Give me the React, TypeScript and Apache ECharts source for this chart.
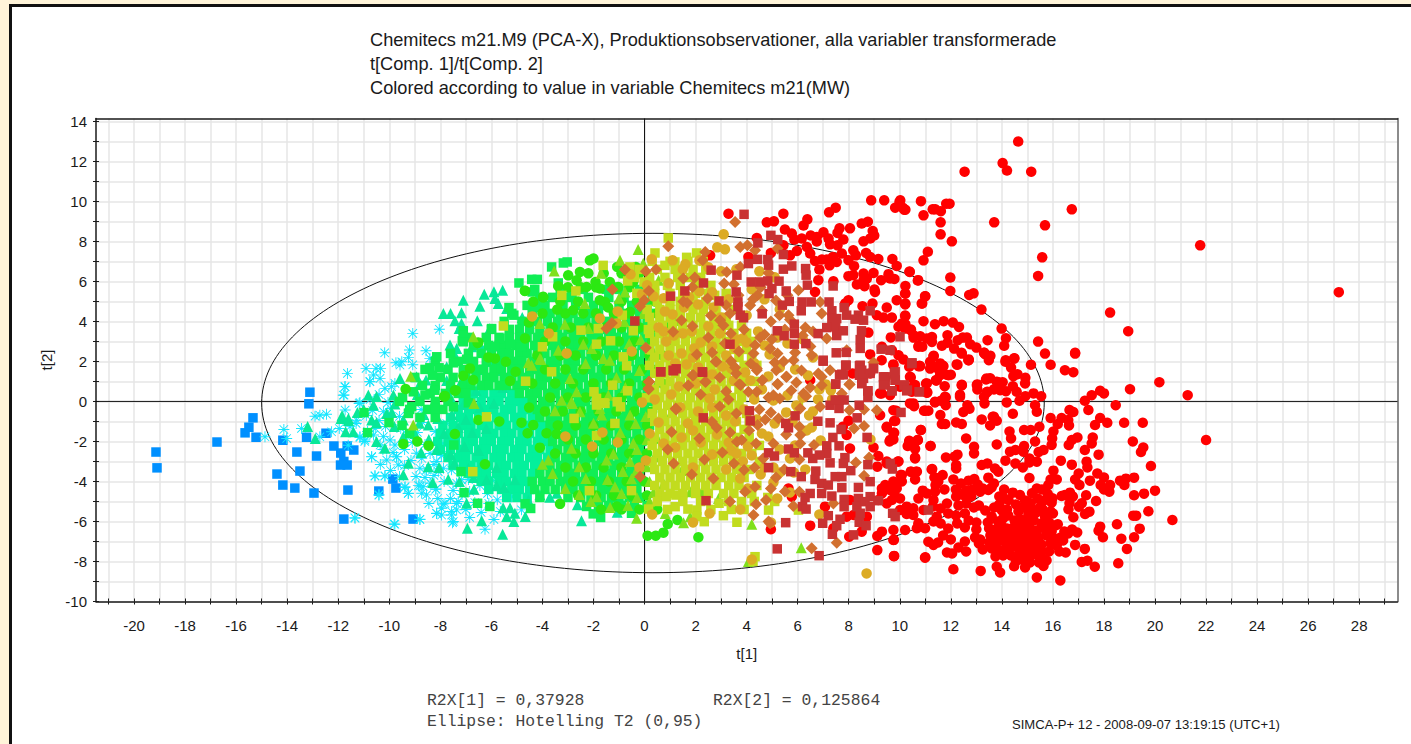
import React, { useEffect, useRef } from "react";
import * as echarts from "echarts";

const titleLines = [
  "Chemitecs m21.M9 (PCA-X), Produktionsobservationer, alla variabler transformerade",
  "t[Comp. 1]/t[Comp. 2]",
  "Colored according to value in variable Chemitecs m21(MW)",
];
const xTicks = [-21,-20,-19,-18,-17,-16,-15,-14,-13,-12,-11,-10,-9,-8,-7,-6,-5,-4,-3,-2,-1,0,1,2,3,4,5,6,7,8,9,10,11,12,13,14,15,16,17,18,19,20,21,22,23,24,25,26,27,28,29];
const yTicks = [-10,-9,-8,-7,-6,-5,-4,-3,-2,-1,0,1,2,3,4,5,6,7,8,9,10,11,12,13,14];
const xLabels = [-20,-18,-16,-14,-12,-10,-8,-6,-4,-2,0,2,4,6,8,10,12,14,16,18,20,22,24,26,28];
const yLabels = [-10,-8,-6,-4,-2,0,2,4,6,8,10,12,14];
const ellipse = [0.33, -0.08, 15.33, 8.48];

// flat t1,t2 lists
const blue = [-19.14,-2.53,-19.1,-3.32,-16.75,-2.03,-15.65,-1.57,-15.5,-1.29,-15.34,-.82,-15.22,-1.79,-14.17,-1.94,-13.62,-2.53,-14.4,-3.63,-14.17,-4.18,-13.7,-4.33,-13.5,-3.48,-13.24,-1.79,-13.15,-.12,-13.11,.46,-12.85,-2.73,-12.95,-4.58,-12.48,-1.59,-12.17,-2.23,-11.9,-2.58,-11.65,-2.23,-11.39,-2.43,-11.78,-3,-11.91,-3.18,-11.65,-3.18,-11.62,-4.43,-11.78,-5.88,-10.41,-4.48,-9.86,-3.88,-9.74,-4.33,-9.07,-5.88];

const redCircles = [27.2,5.46,22,-1.93,21.77,7.8,21.28,.31,20.68,-5.93,20.17,.96,20,-4.46,19.84,-3.23,19.74,-5.49,19.57,-4.61,19.54,-2.3,19.52,-1.07,19.45,-2.53,19.4,-6.36,19.26,-5.71,19.18,-3.81,19.18,-4.69,19.18,-6.79,19.15,-5.71,19.13,-2,19.02,.61,18.95,3.51,18.9,-7.37,18.86,-3.86,18.8,-4.18,18.79,-1.07,18.68,-6.86,18.63,-3.96,18.56,-8.09,18.51,-6.14,18.46,-.19,18.24,4.44,18.24,-4.18,18.21,-4.51,18.13,-1.07,18,.4,18,-3.8,18,-4.4,17.96,-6.79,17.87,-4.18,17.85,.53,17.85,-.83,17.85,-6.26,17.79,-2.66,17.79,-6.46,17.74,-3.6,17.69,-4.98,17.65,-1.18,17.64,-8.26,17.56,-1.8,17.52,.31,17.52,-2.1,17.45,-3.96,17.43,-5.51,17.39,-.43,17.35,-3.3,17.35,-7.96,17.32,-3.01,17.3,-4.69,17.26,-5.63,17.25,.03,17.25,-2.43,17.25,-7.37,17.13,-5.09,17.13,-8.02,17.04,-4.18,17.02,-5.26,17.01,-3.6,16.96,-1.8,16.87,2.43,16.87,2.39,16.87,-3.9,16.87,-7.17,16.8,1.46,16.8,-.53,16.8,-5.79,16.78,-4.76,16.74,9.6,16.74,-1.93,16.74,-3.16,16.67,-4.56,16.65,-.43,16.65,-5.09,16.63,-1.2,16.62,-2.18,16.61,-5.39,16.6,-.93,16.47,1.56,16.47,-4.68,16.34,-.83,16.34,-4.73,16.31,-2.96,16.29,-8.95,16.19,-1.13,16.19,-6.14,16.15,-3.9,16.02,-1.5,16.02,-3.46,15.98,-4.84,15.97,-1.85,15.95,-2.17,15.95,-5.06,15.91,1.83,15.91,-.83,15.91,-3.9,15.91,-5.51,15.82,-4.18,15.8,-4.63,15.69,8.8,15.69,2.39,15.69,-5.76,15.63,-2.43,15.63,-8.22,15.58,7.2,15.57,-4.4,15.54,.26,15.52,-5.26,15.47,-1.27,15.44,-2.53,15.42,6.27,15.42,2.99,15.37,-.52,15.37,-3.01,15.37,-4.35,15.37,-8.8,15.3,-.19,15.3,-2,15.26,-5.43,15.24,.4,15.18,-4.59,15.15,11.48,15.14,1.83,15.13,-1.43,15.13,-5.09,15.08,-2.85,15.08,-3.05,15.08,-3.83,15.04,-5.63,14.97,-5.01,14.92,1.18,14.92,.26,14.91,.9,14.91,-8.3,14.87,-1.43,14.87,-2.23,14.84,-2.51,14.82,-3.3,14.71,-4.68,14.69,.03,14.64,12.99,14.61,1.36,14.58,.48,14.53,-2.43,14.53,-3.1,14.49,2.16,14.48,2.14,14.48,-8.24,14.45,1.26,14.43,.76,14.43,-.62,14.43,-4.56,14.36,1.69,14.36,-1.85,14.32,-2.51,14.3,-1.5,14.26,-4.93,14.2,11.54,14.19,-.05,14.16,3.16,14.16,.51,14.15,2.06,14.14,1.98,14.14,-2.96,14.09,2.78,14.09,-4.4,14.03,11.91,14.03,.96,13.99,3.64,13.93,.56,13.93,-8.55,13.86,.96,13.86,-3.51,13.8,-.97,13.8,-2.15,13.8,-8.26,13.73,-3.35,13.7,8.95,13.69,.6,13.69,-.77,13.69,-4.1,13.64,-.77,13.6,-4.3,13.55,2.28,13.54,1.16,13.54,-1.2,13.49,2.06,13.47,-3.81,13.47,-4.43,13.44,3.06,13.43,.48,13.43,-3.1,13.38,1.1,13.34,2.36,13.32,-.1,13.31,2.43,13.3,.23,13.21,-.9,13.21,-3.18,13.2,4.59,13.17,-8.47,13.15,-4.51,13.04,.85,13.04,.6,13,2.69,12.92,-3.88,12.91,-2.27,12.91,-2.6,12.89,5.4,12.86,-4.4,12.76,2.86,12.73,-.37,12.72,5.32,12.7,2.1,12.7,2.06,12.7,-3.96,12.65,-.19,12.63,3.19,12.6,-1.85,12.54,11.48,12.49,-.53,12.49,-4.68,12.47,3.19,12.43,2.39,12.43,.83,12.43,-1.13,12.42,2.43,12.36,.33,12.32,3.72,12.27,3.06,12.26,1.83,12.26,-2.66,12.21,-1.05,12.21,-3.18,12.21,-3.35,12.21,-4.76,12.15,-2.76,12.13,2.64,12.1,-8.39,12.08,3.94,12.04,8,12,1.33,11.98,6.19,11.98,5.52,11.95,9.88,11.87,3.31,11.87,2.93,11.84,1.33,11.82,9.88,11.81,-2.8,11.8,.2,11.8,-.19,11.78,-1.13,11.76,.76,11.75,-4.4,11.72,4.01,11.68,1.79,11.68,-3.68,11.65,2.78,11.65,-1.13,11.61,9.51,11.61,.03,11.6,8.95,11.6,8.35,11.59,-.68,11.54,1.56,11.42,1.05,11.4,-4.18,11.39,9.6,11.38,3.86,11.38,-.05,11.36,-3.8,11.33,2.28,11.32,2.26,11.32,1.73,11.29,9.6,11.26,3.22,11.26,2.97,11.25,-3.4,11.2,-2.23,11.19,1.98,11.12,-.47,11.1,7.48,11.08,.45,11.06,3.14,11.06,.9,11,5.25,10.99,-7.81,10.95,-.47,10.93,9.3,10.93,7.05,10.93,4.01,10.88,4.89,10.88,2.73,10.83,10.01,10.82,-1.43,10.8,3.26,10.77,1.78,10.74,2.78,10.71,6.04,10.71,-1.93,10.64,-3.51,10.6,-2.37,10.6,-2.8,10.6,-3.9,10.56,.81,10.56,-.24,10.54,3.19,10.44,3.59,10.44,-3.51,10.43,1.2,10.4,-.1,10.39,6.47,10.37,1.73,10.37,-1.97,10.31,-2.23,10.22,9.58,10.22,5.77,10.22,5.39,10.22,4.89,10.22,4.26,10.22,3.86,10.12,9.68,10.04,-3.68,10.02,10.05,9.93,-3,9.86,-.47,9.82,-.98,9.77,-7.74,9.77,-6.92,9.75,1.81,9.75,-1.57,9.75,-1.9,9.6,-2,9.49,-1.3,9.49,-3,
9.99,9.97,9.82,9.68,9.39,10.05,8.88,10.05,10.17,9.58,8.75,8.98,8.51,8.89,8.94,8.52,9,8.29,8.84,8.14,8.58,8,8.05,8.65,7.64,8.65,7.56,8.42,7.49,9.68,7.23,9.45,7.21,8.14,7.27,7.85,7.01,8.45,6.75,8.22,6.75,7.99,6.51,8.29,6.38,9.1,6.36,7.72,6.23,8.79,6.16,8.14,5.97,7.52,5.87,8.09,5.77,8.39,5.7,7.3,5.5,8.59,5.44,9.38,5.44,7.8,5.07,9,4.95,7.42,4.79,8.95,4.4,8.17,4.07,7.22,3.29,9.38,2.57,7.3,7.79,8.09,7.56,7.8,7.73,7.39,8.18,7.55,8.28,7.3,7.99,7.06,8.21,6.76,8.68,7.42,8.84,7.22,9.16,7.12,9.71,7.12,9.88,6.77,10.38,6.49,10.72,6.06,7.53,6.97,7.38,7.22,7.25,6.8,7.14,7.09,6.95,7.09,6.85,6.59,6.68,7.02,6.49,7.39,8.58,6.39,8.97,6.42,9.56,6.36,9.62,6.14,9.79,6.12,9.27,6.06,8.71,6.14,8.58,6.06,8.32,5.84,8.62,5.76,9.01,5.59,9.03,5.47,7.99,6.26,8.18,6.31,6.81,6.06,6.68,5.47,7.4,6,10.21,5.39,10.99,5.26,10.86,4.89,9.88,5.06,10.21,4.85,8.93,4.89,7.99,5.06,8.54,4.76,7.86,4.89,9.49,4.69,10.21,4.29,9.1,4.31,9.36,4.19,9.69,4.19,10.08,3.89,9.95,3.73,10.43,3.56,10.21,3.64,10.54,3.31,9.65,3.2,8.77,3.44,10.73,2.73,11.58,1.9,9.3,2.73,9.69,2.56,9.95,2.31,8.84,2.35,9.29,2.06,9.75,1.85,10.14,2.1,10.8,1.76,11.71,1.76,12.23,1.85,12.69,2.06,13.3,2.43,8.15,1.4,8.84,1.4,10.4,1.23,10.6,.82,11.45,1.06,11.91,1.31,12.43,.8,13.02,.82,13.41,1.15,13.8,.98,13.41,.45,9.29,.4,10.01,.73,10.47,.48,11.06,.43,11.77,.23,12.36,.23,6.49,1.06,
9.23,-.69,9.49,-1.27,9.78,-.98,9.78,-1.57,9.62,-1.93,8.97,-2.3,8.05,-2.35,7.99,-.97,7.92,-1.68,7.77,-1.27,10.38,-2.02,10.7,-1.93,11.21,-2.23,10.83,-1.43,10.6,-2.85,9.16,-2.73,9.49,-3.1,9.12,-3.26,9.95,-3,10.43,-3.51,10.67,-3.51,11.27,-3.38,11.38,-3.8,11.51,-4,10.08,-3.68,9.75,-4,9.43,-4.18,9.3,-4.35,10.08,-4,9.62,-4.43,9.88,-4.35,9.82,-4.76,9.69,-4.93,10.01,-4.85,9.49,-5.1,9.3,-4.6,9.16,-4.93,10.9,-4.46,11.06,-4.6,11.38,-4.51,10.73,-4.85,11.32,-4.93,10.27,-5.26,10.53,-5.34,10.93,-5.43,10.01,-5.43,10.27,-5.63,10.53,-5.68,11.45,-5.76,11.32,-6,10.73,-6.09,10.99,-6.34,10.67,-6.34,10.21,-6.43,9.75,-6.43,9.3,-6.51,9.12,-6.73,8.51,-6.51,8.02,-6.76,7.4,-6.34,6.49,-6.21,4.95,-6.39,7.07,-5.26,7.92,-5.76,8.19,-5.68,8.71,-5.76,9.75,-6.93,11.12,-7.01,11.32,-7.17,9.12,-7.43,9.78,-7.72,11,-7.79,5.77,-4.76,5.64,-4.35,8.05,-4.93,9.75,-.44,10.53,-.1,11,-.47,11.38,-.02,9.23,.4,9.62,.31,10.73,1.76,11.03,.89,11.42,1.06,11.19,1.64,11.58,1.31,
12.1,-3.9,12.4,-4.1,12.8,-4.75,12.3,-5.2,12.6,-5.1,12.9,-5.3,13.1,-5.2,13.35,-5.45,13.7,-5.3,14,-5.45,12.2,-5.7,12.55,-5.6,11.85,-5.1,11.6,-5.35,11.3,-5.25,11.9,-5.6,11.6,-6.1,11.9,-6.35,12.25,-6.1,12.55,-6.3,12.7,-5.95,13,-6.05,13,-6.4,11.7,-6.7,12,-6.9,11.5,-7.05,12.3,-7.3,12.55,-7,12.6,-7.5,11.85,-7.55,12.05,-7.6,13.15,-6.9,13.25,-7.4,13.1,-7.1,
13.45,-6.05,13.6,-5.75,13.85,-6,14.05,-5.85,14.25,-5.7,14.5,-5.95,14.75,-5.9,15,-6.05,15.25,-5.95,15.55,-6.1,15.85,-6.05,16.1,-6.2,16.45,-6.5,16.75,-6.4,16.95,-6.55,13.5,-6.35,13.75,-6.4,14,-6.25,14.2,-6.35,14.45,-6.3,14.65,-6.25,14.9,-6.4,15.1,-6.35,15.35,-6.45,15.65,-6.35,15.95,-6.5,16.3,-6.8,16.6,-6.6,13.55,-6.7,13.8,-6.75,14.05,-6.6,14.3,-6.7,14.5,-6.65,14.7,-6.6,14.95,-6.7,15.2,-6.75,15.45,-6.8,15.75,-6.7,16.05,-6.85,16.4,-6.95,13.5,-7.05,13.75,-7.1,14,-6.95,14.2,-7.05,14.4,-7,14.6,-6.9,14.85,-7,15.05,-7.1,15.3,-7.1,15.55,-7.15,15.9,-7.1,16.15,-7.2,13.6,-7.35,13.85,-7.4,14.15,-7.35,14.35,-7.3,14.55,-7.25,14.8,-7.35,15,-7.4,15.25,-7.4,15.55,-7.45,15.85,-7.5,16.25,-7.5,16.5,-7.55,13.75,-7.75,14.05,-7.7,14.35,-7.7,14.65,-7.65,14.9,-7.7,15.1,-7.75,15.35,-7.65,15.6,-7.85,14.55,-8,14.85,-7.95,15.1,-8.05,15.45,-8.05,15.75,-7.95,
14.65,-5.5,14.85,-5.3,15.05,-5.35,15.35,-5.55,15.6,-5.4,16,-5.6,13.9,-5.15,14.2,-5.4,14.55,-5.15,14.9,-4.95,15.4,-4.85,15.65,-4.95,
12.95,-6.8,12.2,-4.4,12.6,-4.45,13.05,-4.15,13.25,-4.35,13.9,-4.75,14.1,-4.85];

const redSquares = [.64,1.48,1.14,1.53,1.24,1.63,2.26,1.48,4.11,-.47,2.3,-.82,4.14,-.97,5.9,-.72,5.53,-1.1,5.64,-1.32,6.79,-.99,7.27,-1.07,7.7,-1.4,8.33,-.82,7.38,-1.8,8.72,-1.8,7.62,-2.22,7.14,-2.22,7.14,-2.6,6.85,-2.68,6.59,-2.85,6.4,-2.57,5.87,-2.57,5.64,-2.38,4.86,-2.57,5.09,-2.73,4.86,-3.31,5.73,-3.51,6.14,-3.76,6.71,-3.48,7.27,-3.07,7.85,-2.81,7.79,-3.1,8.08,-3.46,8.75,-3.16,9.63,-3.1,9.71,-3.38,7.73,-3.76,7.47,-3.76,6.68,-3.9,6.94,-4.1,7.2,-4.18,7.73,-4.31,8.38,-4.3,8.84,-4.01,6.49,-4.6,6.29,-4.8,6.94,-4.6,7.34,-4.73,7.82,-4.9,7.82,-5.26,8.38,-4.85,8.84,-4.76,9.16,-4.96,8.32,-5.26,8.64,-5.01,8.84,-5.26,8.45,-5.59,6.19,-5.26,6.33,-5.38,2.41,-4.96,9.72,-5.59,9.82,-5.76,10.05,-.55,11.12,-5.43,7.2,-5.71,7.66,-5.89,7.53,-6.21,6.98,-6.09,8.41,-6.04,8.68,-6.21,5.53,-6.06,8.19,-6.67,7.36,-6.64,5.2,-7.37,6.84,-7.71,7.88,1.81,8.45,1.81,8.45,1.31,8.51,.89,8.97,1.64,9.43,1.23,9.43,.89,9.82,1.48,9.82,1.06,9.69,.53,10.18,.81,10.27,.53,10.77,.48,10.47,1.89,8.75,.53,8.75,.2,8.41,-.19,7.62,.06,7.27,-.19,7.62,-.35,7.49,.86,7.73,1.36,7,2.01,
3.9,9.35,4.95,8.3,5.22,8.09,4.44,7.92,5.44,7.34,4.43,7.1,4.07,6.89,4.83,7.09,4.86,6.81,2.61,6.56,3.62,6.31,5.44,6.61,5.77,6.77,6.31,6.64,6.33,6.31,6.38,5.81,4.18,5.97,4.53,5.97,4.83,6.02,5.27,6.01,2.31,5.92,7.39,5.77,5.55,5.52,3.59,5.47,4.88,5.39,4.99,5.64,2.92,5.02,3.66,4.97,3.66,4.73,5.4,4.81,5.67,5,6.17,4.97,6.53,4.97,7.23,4.97,6.14,4.53,7.34,4.53,7.82,4.69,8.84,4.53,3.75,4.31,3.88,4.18,4.61,4.38,7.34,4.14,7.53,4.14,7.92,4.31,8.38,4.31,8.25,4.11,8.58,4.06,5.87,3.86,7.49,3.73,7.14,3.69,7.79,3.53,8.5,3.53,5.2,3.53,5.87,3.39,5.47,3.28,6.8,3.39,7.53,3.29,8.45,3.09,10.01,3.23,5.87,2.86,6.32,2.89,3.35,2.86,8.45,2.65,9.27,2.61,9.62,2.56,7.51,2.43,7.9,2.45,7,2.06,10.48,1.93,7.9,1.81,8.42,1.78,8.51,1.56,8.97,1.65,8.84,1.4,7.64,1.33,7.79,1.33,2.28,1.46,8.42,1.31,8.58,1.15,8.51,.9,9.36,1.23,9.36,.82,9.79,1.4,9.82,1.06,7.49,.87,10.17,.82,10.3,.57,8.75,.53,9.7,.53,10.76,.48,7.82,.07,7.47,.07,-.38,4.02,1.02,5.26,1.58,5.52,.63,1.48,1.12,1.56];

const diamonds = [.93,7.75,-.77,6.59,.05,6.5,.45,6.59,1.52,6.14,1.97,6.19,1.88,5.72,-1.26,5.59,.17,5.52,-.01,5.06,-.18,4.76,1.52,5,1.67,4.92,1.45,4.06,1.88,3.76,1.12,3.48,-1.28,3.92,-1.49,3.64,.05,2.68,1.88,1.31,1.71,.78,.17,.98,.15,.65,1.22,-.35,3.55,8.97,3.75,7.72,4.03,7.8,4.33,7.55,5.21,7.64,2.38,7.47,2.28,7.05,3.75,6.72,3.22,6.47,4.86,6.42,3.12,5.89,4.43,5.31,3.68,5.31,2.47,5.14,4.14,4.81,3.2,4.81,5.29,4.31,5.64,4.31,6.03,5.56,6.88,4.97,6.94,4.39,2.96,4.06,3.09,3.81,4.53,3.19,4.99,3.09,4.33,2.81,3.38,3.39,7.14,3.14,7.92,2.56,6.55,2.31,5.84,2.06,5.21,2.39,4.92,2.65,4.27,2.39,2.79,2,3.39,2.01,4.16,1.9,5.16,1.56,4.4,1.56,3.59,1.4,5.55,1.23,4.61,1.06,2.38,.98,3.77,.82,5.21,.87,4.07,.48,7.27,1.56,6.81,1.4,8.03,.85,8.97,1.95,6.23,.4,.18,.98,.16,.61,1.92,1.31,1.72,.79,2.4,.98,2.81,1.98,3.72,.86,4.4,1.64,4.62,1.06,5.22,.86,5.57,1.23,4.4,.48,4.86,.2,5.05,.31,3.29,.1,1.24,-.4,2.64,-1.02,2.83,-1.32,4.5,-.4,5.25,-.85,4.73,-.9,4.43,-1.18,6.07,-1.27,6.33,.26,6.49,.69,6.88,-.27,8.03,-.44,8.6,-.4,9.1,-.44,8.21,-1.35,8.6,-1.23,7.73,.4,8.03,.86,9.45,1.14,6.94,1.23,6.94,.81,1.06,-1.53,.91,-2.4,3.62,-2.02,3.81,-1.93,4.37,-2.1,5.05,-2.1,6.1,-1.68,6.1,-2.1,6.64,-2.18,3.9,-3.43,4.31,-3.3,5.48,-3.4,6.07,-2.9,1.14,-3.1,-.17,-3.76,4.33,-4.26,3.94,-4.51,4.76,-4.93,4.37,-5.14,4.27,-5.68,4.86,-6,4.92,-6.09,5.83,-5.23,6.07,-4.51,7.4,-5.1,8.6,-3.71,8.28,-3.05,8.8,-2.8,7.53,-7.06,6.55,-7.34,
5.7,4.1,6.3,3.7,6.6,3.5,6.2,3.3,5.6,5.3,5.15,5.05,4.55,5.7,4.25,5.1,3.5,5.85,2.6,4.3,3.35,4.4,4.6,4.55,4.95,4,5.5,3.6,6.5,2.75,5.9,2.45,5.45,2,6.15,1.55,5.1,1.95,3.7,2.5,4.7,3.35,3.9,3.6,3.15,2.9,2.5,3.2,2.65,2.45,3.55,1.7,2.05,2.35,2.95,1.2,3.2,.5,2.2,.35,5.75,.55,5.95,.95,5.3,.15,6.1,-.35,4.95,-.55,3.6,-.6,2.95,-.25,4.1,-1.45,3.35,-1.55,5.55,-1.65,2.15,-1.85,3.05,-2.55,4.65,-2.85,3.5,-3.1,5.15,-3.8,2.35,-2.9,1.85,-3.65,2.7,-3.85,5.5,-4.5,4.95,-4.35,3.35,-5];

const goldCircles = [3.1,8.35,2.85,7.7,3.15,7.6,1.1,7.05,.28,7.1,1.6,6.85,2.15,7.05,-.55,6.35,.1,5.8,.95,5.9,1.5,6.6,2.5,6.7,3,6.5,.35,5.25,.75,5.15,1.75,5.2,-.1,5.35,2.15,5.5,2.65,5.45,.8,4.5,1.1,4.35,1.55,4.7,2.1,4.85,-1.75,4.15,-1.05,4.5,.55,3.7,.75,3.5,1.15,3.3,1.5,3.4,1.85,3.5,.85,3,2.5,3.75,2.95,3.4,2.2,2.95,2.65,2.75,1.95,2.65,.95,2.3,1.45,2.4,1.9,2.2,1.2,1.9,1.65,1.85,2.1,1.7,-3.05,2.4,3.2,2.3,3.55,2.65,4,2.95,4.45,3.5,3.85,3.15,4.9,2.35,4.3,1.9,3.95,1.45,3.5,1.05,4.15,1.05,4.85,1.25,2.65,1.35,3.05,1.75,2.75,.6,2,.9,2.55,.15,1.35,.75,1.05,.35,.4,.1,-.1,-.05,1.4,-.3,2.1,-.5,2.65,-.3,3.2,-.7,3.55,-1,1.7,-1.1,1.9,-1.45,2.85,-1.65,3.3,-2.05,.55,-1.05,.2,-1.6,1.45,-1.8,2.2,-2.05,.75,-2.1,1.2,-2.3,2.65,-2.65,3.85,-3,3.4,-2.45,4.05,-2.25,4.85,-1.75,5.55,-.55,5.95,-.2,5.05,.05,6.45,-.7,6.35,-1.45,6.55,-1.3,7.35,.1,7.3,.55,6.85,.6,8.85,-1.9,6.9,-1.95,5.7,-2.85,5.05,-3.3,4.55,-3.65,5.3,-3.55,5.85,-3.55,5.05,-4.05,5.7,-4.55,5.2,-4.85,4.05,-4.35,3.75,-3.85,3.2,-3.4,1.9,-3.3,.05,-2.95,-.2,-3.3,.3,-5.65,1.9,-6.05,2.55,-5.6,3.75,-5.4,4.95,-6.05,6.85,-5.65,4.2,-7.9,8.7,-8.6,3.4,1.65,-1.1,3.9,-.5,2.5,-1.65,-1.55,-3.1,-1.75,-2.05,-2.25,-1.05,-2.05,-4.4,4.25,-3.75,3.4,
4.7,2.8,5.2,3.2,5.6,2.9,6.2,3.1,6.6,2.2,5.3,1.7,5.9,1.6,6.4,1.3,4.6,.6,5.6,.3,4.3,.1,3.9,-.4,4.4,-.9,5.1,-1.1,5.8,-1,6.2,.2,4.6,-1.6,5.3,-2.4,4.2,-2.7,3.6,-2.6,4.7,-3.3,6.3,-3.4,5.9,-2.2,3.3,5.1,4,4.3,4.7,5.1,5.3,4.6,3.6,3.1,3,4.2,2.7,4.7,4.2,5.6,3.6,6.6,5.1,6.2,4.5,6.5,6.8,.1,7.1,.85,6.6,-.5];

const yellowExtra = [.93,8.17,.41,7.42,2.04,7.42,-1.62,6.8,-.57,6.72,1.19,6.97,.8,6.8,-.66,6.02,-.02,5.97,-2.69,5.52,-3.24,5.3,-.87,4.31,-1.81,3.64,-2.49,3.56,-5.53,3.77,-3.6,3.23,-4,2.73,-1.88,2.86,-1.33,3.03,-.44,3.53,.15,3.59,-.83,2.23,-.7,1.78,-3.64,1.48,-4.66,1.01,-1.25,.81,-.66,.53,-1.98,.48,-1.88,.15,-1.59,-.07,-1.07,-.02,-.94,-.27,.08,.18,.43,.18,-6.19,-.77,-2.76,-.85,1.91,-.6,-1.88,-.18,-1.55,-.1,-1.16,-1.1,-1.88,-1.71,-6.73,-3.51,-2.16,-4.46,-.51,-4.46,.16,-5.38,1.2,-5.26,.85,-4.76,1.23,-4.68,1.7,-5.38,2.05,-5.43,2.05,-5.76,2.34,-6.01,2.92,-5.09,3.09,-5.71,3.62,-6.04,4.83,-4.8,4.86,-5.43,6.03,-5.43,6.03,-.27,4.33,-7.76,4.25,-8,1.65,7.2,2.75,5.3];

const limeTriangles = [-.25,7.59,-3.54,6.52,-.96,7.05,-.77,5.47,-4.1,3.89,-3.12,3.86,-2.2,3.64,-2.4,2.86,-2.07,2.64,-3.38,2.56,-4.1,2.14,-4.55,1.93,-4.42,1.81,-2.31,1.9,-1.36,2.06,-9.16,1.26,-6.71,3.23,-6.68,-.1,-3.51,-.47,-3.25,.06,-2.66,.48,-2.86,-.02,-1.42,.31,-1.75,-.35,-2.53,-.52,-9.06,-1.18,-4.06,2.1,-2.34,4.9,-1.62,2.15,-2.92,1.15,-2.83,-.1,-1.68,-.68,-2,-1.09,-.57,-.68,-.44,-2.09,-1.22,-2.63,-1.49,-2.93,-.57,-3,-2.56,-3.26,-2.86,-2.34,-3.77,-2.93,-4,-3.14,-1.88,-4.76,-.51,-3.87,-.31,-5.84,-1.16,-4.26,.81,-5.6,1.53,-6.06,1.79,-5.76,2.25,-4.51,2.9,-4.85,4.2,-6.14,6.14,-7.31,4.07,-8,1.79,-4.51,.61,-2.77,.09,-3.26,
-1.1,1.2,-.75,.7,-.2,1.55,-.6,2.9,-.15,3.1,.3,2.6,.55,1.1,.2,2,-.35,-1.1,.05,-.75,-.95,-1.55,-.3,-2.4,.1,-1.9,.45,-2.6,-.85,-3.5,-.35,-3.55,.2,-4,-1.45,-3.9,-.9,-4.6,-.3,-4.8,.35,-4.55,-2.1,-5,-1.35,-5.3,-.65,-5.2,.2,-5,.75,-4.1,1.45,-3.45,1.1,-2.25,.75,-.55,-2.3,-3.85,-3.1,-4.35,-2.55,-4.65,-3.6,-3.6,-.8,4,-.05,4.4,-1,5.15,.55,6.05,-.05,6.9,-1.7,6.4,1.25,4.05];

const greenCircleExtra = [-9.45,-2.13,-8.9,-2,-8.46,-2.21,-9.36,.62,-6.51,2.95,-4.53,3.95,-4.68,3.15,-4.68,5.53,-3.97,5.23,-4.36,4.98,-3.31,-5.12,-1.09,-5.25,-7.43,-1.63,-4.1,-2.31,-6.25,-3.14,-6.84,1.65,-6.71,1.07,-7.1,1.28,-7.85,.24,-7.43,.54,-5.86,2.15,-5.43,1.98,-5.05,1.48,-5.27,1.02,-4.52,-.31,-4.82,-1.06,-6.51,-.93,-5.69,-1,-4.36,-1.18,-3.84,-1.59,-3.44,-1.63,-4.58,-1.59,.12,-6.71,.44,-6.71,.74,-6.56,2.11,-6.79,.91,-6.13,1.29,-5.93,-2.14,7.05,-2,7.14,-2.99,6.3,-2.53,6.47,-2.66,6.05,-3.38,5.76,-2.27,5.72,-1.92,5.97,-1.75,5.64,-1.36,5.97,-1.07,6.72,-3.97,5.19,-4.69,5.52,-3.42,4.59,-2.79,4.56,-1.55,4.97,-1.75,5.06,-1.42,4.69,-.57,4.47,-1.03,5.72,-.44,5.97,-.34,6.72,-6.54,2.92,-6.12,2.2,-7.82,.27,-7.4,.56];

const greenSquareExtra = [-3.64,6.72,-3.18,6.92,-3.03,6.97,-4.92,5.92,-4.42,6.1,-4.2,6.1,-3.38,5.92,-2.84,5.36,-4.4,5.47,-4,4.81,-4.29,4.69,-3.21,4.89,-5.31,4.69,-5.12,4.31,-5.99,3.64,-7.1,3.53,-7.14,3.03,-5.66,3.14,-5.86,2.73,-4.82,2.73,-5.25,2.86,-6.97,2.11,-8.14,2.23,-8.41,1.68,-8.05,1.68,-7.49,1.93,-8.31,1.31,-9.06,.48,-8.21,.56,-8.6,.32,-6.9,-.07,-9.25,-.6,-8.21,-.35,-7.49,-.27,-9.48,.2,-9.12,-.26,-10.99,-.56,-10.01,-1.06,-10.85,-1.56,-7.19,-3.51,-7.47,-2.18,-7.07,-4.56,-6.54,-5.09,-6.06,-5.25,-4.68,-5.12,-4.46,-5.35,-2.27,-5.25,-1.72,-5.8,-.51,-5.59,-2.01,-5.62,-7.1,3.31,-7.1,2.98];

const tealTriangles = [-7.1,5.06,-6.28,5.36,-5.9,5.48,-5.56,5.56,-6.45,4.76,-5.86,5.14,-5.73,4.9,-5.4,4.65,-7.88,4.4,-7.6,4.4,-7.17,4.43,-7.43,4.03,-7.17,3.9,-7.26,3.65,-6.55,4.03,-6.06,3.65,-4.79,4.2,-7.62,2.82,-7.36,2.65,-6.77,2.73,-6.45,2.82,-6.19,2.82,-7.75,1.73,-7.43,2.32,-8.56,1.07,-9.58,1.15,-8.93,1.23,-8.8,.9,-9.84,.32,-10.82,.32,-10.5,.24,-9.78,-.13,-10.62,-.18,-11.6,-.85,-11.89,-.85,-10.69,-.93,-10.5,-1.06,-11.71,-1.51,-11.41,-1.51,-9.45,-.93,-8.82,-1.09,-8.47,-1.18,-9.45,-1.76,-10.5,-2,-10.17,-2.34,-9.25,-3.09,-9.45,-3.67,-8.47,-3.26,-7.69,-3.89,-6.97,-5.09,-6.68,-4.39,-6.19,-3.92,-5.54,-5.32,-5.27,-5.32,-5.4,-5.75,-5.08,-5.59,-5.12,-6,-4.67,-5.75,-6.38,-5.97,-6.94,-6.34,-5.56,-6.64,-4.1,-4.67,-3.71,-4.79,-3.44,-4.59,-2.47,-5.97,-2.63,-5.17,-1.07,-5.54,-4.55,-4.95,-5.8,-4.22,-5.08,-3.92,-13.2,-1.25,-12.9,-1.85,-11.85,-.7,-11.6,-.95,-11.25,-.55,
-8.9,.35,-8.3,.7,-7.75,1.05,-7.2,.95,-6.8,1.9,-6.4,1.6,-6,2,-5.7,1.55,-8.15,-.25,-7.6,.2,-7.1,-.15,-6.6,.55,-6.15,.95,-5.55,.7,-8.65,-.65,-8.1,-.85,-7.55,-.65,-7,-.9,-6.45,-.3,-5.9,-.1,-9,-1.6,-8.45,-1.9,-7.85,-1.6,-7.3,-1.3,-6.75,-1.55,-6.2,-1.35,-8.75,-2.55,-8.15,-2.4,-7.6,-2.65,-7.05,-2.25,-6.5,-2.45,-8.05,-3.3,-7.45,-3.1,-6.9,-3.35,-6.35,-3.05,-5.8,-3.3,-7.25,-4,-6.7,-3.8,-5.5,-4.3,-9.8,-1.25,-9.9,-.55,-10.1,-.6,-11,-.4,-8.3,-4.05];

const cyanStars = [-9.08,3.4,-8.04,3.61,-10.18,2.43,-9.21,2.57,-9.25,2.2,-9.74,1.93,-9.51,1.98,-9.08,1.83,-9.58,1.82,-8.56,2.53,-8.41,2.15,-10.91,1.65,-11.64,1.4,-10.52,1.65,-10.34,1.65,-10.62,1.32,-10.36,1.15,-10.76,1,-11.73,.74,-10.17,.65,-9.91,.74,-9.78,.9,-11.77,.32,-11.15,-.06,-11.73,-.43,-10.23,-.51,-11.54,-1.26,-11.15,-1.76,-10.62,-1.68,-10.95,-1.93,-10.23,-1.76,-9.97,-1.93,-10.36,-2.18,-9.78,-2.18,-10.69,-2.76,-10.1,-2.93,-9.71,-2.76,-9.65,-3.17,-8.93,-2.59,-8.73,-2.84,-8.8,-3.34,-8.54,-3.42,-8.14,-3,-8.08,-3.51,-7.88,-3.34,-7.56,-3.42,-10.56,-3.72,-10.17,-3.72,-9.38,-4.26,-9.25,-4.59,-8.86,-4.21,-8.67,-4.26,-8.4,-4.09,-8.18,-4.39,-8.73,-4.59,-8.54,-4.67,-10.4,-4.67,-7.36,-4.09,-7.17,-3.92,-7.82,-5.09,-7.95,-5.34,-8.14,-5.59,-7.56,-5.5,-7.36,-5.42,-7.49,-6,-9.78,-6.14,-8.8,-5.89,-11.34,-5.84,-6.25,-6.39,-5.77,-4.92,-4.82,-5.42,-7.3,-5,-6.19,-3.76,-5.21,-4.76,-14.87,-1.77,-14.13,-1.4,-14.02,-1.85,-13.44,-1.35,-12.91,-.74,-12.72,-.69,-12.46,-.64,-12.72,-1.77,-12.26,-1.52,-11.96,-1.35,-11.61,-2.19,-11.18,-.1,-11.28,-.94,-11.15,-1.8,-10.96,-2,-10.69,-2.77,-9.72,-2.77,-10.56,-3.73,-10.17,-3.73,-10.41,-4.68,-11.35,-5.81,-9.81,-6.13,-8.8,-5.9,-11.74,.73,-11.8,.31,-10.76,.98,-8.8,-4.23,-8.17,-4.38,-9.26,-4.6,-9.39,-4.3,-8.15,-5.6,-7.89,-5.13,-7.95,-5.68,-7.56,-5.68,-7.52,-6.06,-7.36,-5.1,
-10.9,-.7,-10.65,-.45,-10.4,-.95,-10.15,-1.25,-9.95,-.35,-9.6,-.75,-9.55,-1.35,-9.25,-.55,-9.3,-1.65,-9.1,-2.05,-9.4,-2.4,-9.15,-2.95,-9.4,-3.2,-8.75,-.4,-8.7,-1.05,-8.9,-1.55,-8.6,-2.15,-8.4,-2.6,-8.25,-3.15,-7.95,-2.7,-7.9,-2.1,-8.2,-1.5,-7.75,-1.1,-7.45,-1.85,-7.4,-2.85,-7.2,-3.3,-7.1,-2.55,-6.9,-3.9,-6.6,-3.3,-6.85,-4.5,-6.45,-4.2,-6.15,-4.6,-5.95,-3.95,-6.1,-5.1,-5.65,-5.5,-6.65,-5.05,-7,-5.4,-10.75,.1,-10.4,.35,-10.05,-.05,-10.55,-1.35,-10.85,-1.5,-11.3,-1.1,-10.25,-2.4,-9.85,-2.55,-10.35,-3.15,-9.95,-3.45,-9.6,-3.75,-8.95,-3.75,-8.6,-3.8,-8.25,-3.7,-7.85,-4,-7.5,-4.45,-7.15,-4.65,-7.6,-4.85,-8.1,-4.85,-8.45,-5.1,-6.85,-5.8,-6.4,-5.55,-5.9,-5.9];

// rows: t2 first, then the t1 values seen along that row
const tealSquareRows = [
  [.4,-6.7,-6.3,-5.9,-5.6,-5.2],
  [0,-7.1,-6.8,-6.4,-6,-5.7,-5.3,-5,-4.7],
  [-.4,-7.3,-6.9,-6.6,-6.2,-5.9,-5.5,-5.2,-4.8,-4.5],
  [-.8,-7.6,-7.2,-6.9,-6.5,-6.2,-5.8,-5.5,-5.1,-4.8,-4.4],
  [-1.2,-7.9,-7.5,-7.1,-6.8,-6.4,-6.1,-5.7,-5.4,-5,-4.7,-4.3,-4],
  [-1.6,-8,-7.6,-7.3,-6.9,-6.6,-6.2,-5.9,-5.5,-5.2,-4.8,-4.5,-4.1,-3.8],
  [-2,-8.1,-7.7,-7.4,-7,-6.7,-6.3,-6,-5.6,-5.3,-4.9,-4.6,-4.2,-3.9],
  [-2.4,-8,-7.6,-7.2,-6.9,-6.5,-6.2,-5.8,-5.5,-5.1,-4.8,-4.4,-4.1,-3.7],
  [-2.8,-7.7,-7.3,-7,-6.6,-6.3,-5.9,-5.6,-5.2,-4.9,-4.5,-4.2,-3.8],
  [-3.2,-7.5,-7.1,-6.8,-6.4,-6.1,-5.7,-5.4,-5,-4.7,-4.3,-4],
  [-3.6,-6.9,-6.5,-6.2,-5.8,-5.5,-5.1,-4.8,-4.4],
  [-4,-6.4,-6.1,-5.7,-5.4,-5,-4.7],
  [-4.4,-6.1,-5.6,-5.2,-4.9,-4.5],
  [-4.8,-5.4,-5,-4.6],
];
const greenSquareRows = [
  [5.6,-4.3,-3.3,-2.4,-1.5,-1,-.2],
  [5.2,-4.1,-3.6,-2.9,-2.2,-1.4,-.8,.3],
  [4.8,-4.6,-3.9,-3.2,-2.7,-2,-1.6,-1,-.5,.1],
  [4.4,-5.2,-4.4,-3.7,-3.3,-2.8,-2.2,-1.8,-1.2,-.7,-.2,.4],
  [4,-5.5,-4.8,-4.2,-3.8,-3.4,-3,-2.6,-2.3,-1.9,-1.5,-1.1,-.7,-.3,.1],
  [3.6,-6,-5.3,-4.9,-4.5,-4.1,-3.7,-3.4,-3,-2.7,-2.3,-2,-1.6,-1.3,-.9,-.5,-.2,.2],
  [3.2,-6.9,-6.2,-5.7,-5.3,-4.9,-4.6,-4.2,-3.9,-3.5,-3.2,-2.8,-2.5,-2.1,-1.8,-1.4,-1.1,-.7,-.4,0,.3],
  [2.8,-6.7,-6.1,-5.7,-5.4,-5,-4.7,-4.3,-4,-3.6,-3.3,-2.9,-2.6,-2.2,-1.9,-1.5,-1.2,-.8,-.5,-.1,.2],
  [2.4,-7.6,-6.9,-6.4,-6,-5.6,-5.3,-4.9,-4.6,-4.2,-3.9,-3.5,-3.2,-2.8,-2.5,-2.1,-1.8,-1.4,-1.1,-.7,-.4,0],
  [2,-8.2,-7.3,-6.7,-6.2,-5.8,-5.5,-5.1,-4.8,-4.4,-4.1,-3.7,-3.4,-3,-2.7,-2.3,-2,-1.6,-1.3,-.9,-.6,-.2,.2],
  [1.6,-8.6,-7.7,-7.1,-6.6,-6.3,-5.9,-5.6,-5.2,-4.9,-4.5,-4.2,-3.8,-3.5,-3.1,-2.8,-2.4,-2.1,-1.7,-1.4,-1,-.7,-.3,.1],
  [1.2,-9,-8,-7.5,-7,-6.6,-6.2,-5.9,-5.5,-5.2,-4.8,-4.5,-4.1,-3.8,-3.4,-3.1,-2.7,-2.4,-2,-1.7,-1.3,-1,-.6,-.3,.1],
  [.8,-8.7,-8.2,-7.6,-7.1,-6.8,-6.4,-6.1,-5.7,-5.4,-5,-4.7,-4.3,-4,-3.6,-3.3,-2.9,-2.6,-2.2,-1.9,-1.5,-1.2,-.8,-.5,-.1],
  [.4,-8.4,-7.8,-7.3,-7,-4.9,-4.5,-4.2,-3.8,-3.5,-3.1,-2.8,-2.4,-2.1,-1.7,-1.4,-1,-.7,-.3,.1],
  [0,-9.6,-8.8,-8.2,-7.7,-4.4,-4,-3.7,-3.3,-3,-2.6,-2.3,-1.9,-1.6,-1.2,-.9,-.5,-.2,.2],
  [-.4,-9.2,-8.5,-7.9,-4.2,-3.9,-3.5,-3.2,-2.8,-2.5,-2.1,-1.8,-1.4,-1.1,-.7,-.4,0],
  [-.8,-8.8,-8.2,-4.1,-3.7,-3.4,-3,-2.7,-2.3,-2,-1.6,-1.3,-.9,-.6,-.2,.2],
  [-1.2,-9.5,-3.7,-3.3,-3,-2.6,-2.3,-1.9,-1.6,-1.2,-.9,-.5,-.2,.2],
  [-1.6,-9.2,-3.5,-3.1,-2.8,-2.4,-2.1,-1.7,-1.4,-1,-.7,-.3,.1],
  [-2,-3.6,-3.2,-2.9,-2.5,-2.2,-1.8,-1.5,-1.1,-.8,-.4,-.1],
  [-2.4,-3.4,-3,-2.7,-2.3,-2,-1.6,-1.3,-.9,-.6,-.2],
  [-2.8,-3.5,-3.1,-2.8,-2.4,-2.1,-1.7,-1.4,-1,-.7,-.3,0],
  [-3.2,-3.7,-3.3,-3,-2.6,-2.3,-1.9,-1.6,-1.2,-.9,-.5,-.2],
  [-3.6,-4.1,-3.7,-3.4,-3,-2.7,-2.3,-2,-1.6,-1.3,-.9,-.6,-.2],
  [-4,-4.4,-4,-3.7,-3.3,-3,-2.6,-2.3,-1.9,-1.6,-1.2,-.9,-.5,-.2],
  [-4.4,-4.3,-3.9,-3.5,-3.1,-2.8,-2.4,-2.1,-1.7,-1.4,-1,-.7,-.3],
  [-4.8,-4.1,-3,-2.5,-2.1,-1.7,-1.3,-1,-.6,-.2],
  [-5.2,-1.8,-1.4,-.9,-.4,.1],
];
const greenCircleRows = [
  [6.4,-2.2,-1.6,-.9,-.2],
  [5.7,-3,-2.5,-1.9,-1.2,-.6,.3],
  [5,-3.3,-2.6,-.9,-.3,.4],
  [4.4,-4,-3.1,-2.4,-1.9,-1.2,-.6,.1,.5],
  [3.7,-3.6,-2.9,-2.2,-1.5,-.9,-.2,.4,.9],
  [3,-3.9,-3.1,-2.4,-1.7,-1,-.4,.3,.9],
  [2.3,-4.2,-3.3,-2.7,-1.9,-1.2,-.5,.2,.7],
  [1.6,-3.9,-3.1,-2.4,-1.5,-.8,-.1,.5,1],
  [.9,-4.4,-3.5,-2.8,-2,-1.3,-.6,.1,.7],
  [.2,-3.7,-3,-2.3,-1.6,-.9,-.2,.5],
  [-.5,-3.9,-3.2,-2.5,-1.8,-1.1,-.4,.3],
  [-1.2,-3.4,-2.7,-2,-1.3,-.6,.1],
  [-1.9,-3,-2.3,-1.6,-.9,-.2,.4],
  [-2.6,-3.5,-2.7,-2,-1.3,-.6,.1],
  [-3.3,-3.1,-2.3,-1.6,-.9,-.2],
  [-4,-2.8,-2.1,-1.4,-.7,0],
  [-4.7,-2.6,-1.9,-1.2,-.5,.1],
  [-5.4,-1.7,-.9,-.2,.5],
];
const yellowSquareRows = [
  [7,.3,1,1.7,2.3],
  [6.6,-.2,.5,1.2,1.9,2.4],
  [6.2,-.4,.2,.8,1.3,1.8,2.2],
  [5.8,.4,.9,1.4,2,2.6],
  [5.4,-.3,.4,1,1.5,2,2.5,3.2],
  [5,.5,1,1.4,1.9,2.4,2.9],
  [4.6,.1,.6,1,1.4,1.9,2.3,2.8,3.5],
  [4.2,.2,.6,1,1.4,1.8,2.2,2.7,3.2],
  [3.8,.3,.7,1.1,1.5,1.9,2.3,2.8,3.3,3.8],
  [3.4,.2,.6,1,1.4,1.8,2.2,2.6,3,3.5,4],
  [3,.4,.8,1.2,1.6,2,2.4,2.8,3.2,3.7,4.2],
  [2.6,.2,.6,1,1.4,1.8,2.2,2.6,3,3.5,4],
  [2.2,.4,.8,1.2,1.6,2,2.4,2.8,3.2,3.7,4.2],
  [1.8,.2,.6,1,1.4,1.8,2.2,2.6,3,3.4,3.9,4.4],
  [1.4,.4,.8,1.2,1.6,2,2.4,2.8,3.2,3.7],
  [1,.6,1,1.4,1.8,2.2,2.6,3,3.4,3.9,4.3],
  [.6,.4,.8,1.2,1.6,2,2.4,2.8,3.2,3.7],
  [.2,.6,1,1.4,1.8,2.2,2.6,3,3.4,3.8,4.3],
  [-.2,.5,.9,1.3,1.7,2.1,2.5,2.9,3.3,3.7],
  [-.6,.3,.7,1.1,1.5,1.9,2.3,2.7,3.1,3.5,4],
  [-1,.4,.8,1.2,1.6,2,2.4,2.8,3.2,3.6,4.1],
  [-1.4,.6,1,1.4,1.8,2.2,2.6,3,3.4,3.9],
  [-1.8,.4,.8,1.2,1.6,2,2.4,2.8,3.2,3.6,4.1],
  [-2.2,.3,.7,1.1,1.5,1.9,2.3,2.7,3.1,3.5,4.5],
  [-2.6,.5,.9,1.3,1.7,2.1,2.5,2.9,3.3,3.8,4.2],
  [-3,.3,.7,1.1,1.5,1.9,2.3,2.7,3.1,3.5,4.5],
  [-3.4,.4,.8,1.2,1.6,2,2.4,2.8,3.2,3.6,4.1],
  [-3.8,.6,1,1.4,1.8,2.2,2.6,3,3.4,3.9],
  [-4.2,.4,.8,1.2,1.6,2,2.4,2.8,3.3,3.7,4.4],
  [-4.6,.6,1,1.5,2,2.5,3.1,3.5,4.2],
  [-5,.5,1.5,2.2,3.3,3.8,4.3,5.1],
  [-5.4,.9,2.6,3.4,3.9],
];

const pairs = (f: number[]) => { const o: number[][] = []; for (let i = 0; i < f.length; i += 2) o.push([f[i], f[i + 1]]); return o; };
const fromRows = (rows: number[][]) => rows.flatMap((r) => r.slice(1).map((x) => [x, r[0]]));
const star = "path://M11 0h2v24h-2zM0 11h24v2H0zM3.5 2.1l18.4 18.4-1.4 1.4L2.1 3.5zM20.5 2.1l1.4 1.4L3.5 21.9l-1.4-1.4z";

const marks = (data: number[][], symbol: string, symbolSize: number, color: string) => ({
  type: "scatter", symbol, symbolSize, data, itemStyle: { color, opacity: 1 }, progressive: 0, silent: true,
});

export default function App() {
  const ref = useRef<HTMLDivElement>(null);
  useEffect(() => {
    document.body.style.margin = "0";
    const chart = echarts.init(ref.current!, null, { renderer: "svg" });
    const XMIN = -21.49, XMAX = 29.5, YMIN = -10, YMAX = 14.14;
    const grid = { left: 96, top: 118.5, width: 1301.5, height: 483 };
    const lineCol = "#1a1a1a";
    const sans = "Liberation Sans, Arial";
    const mono = "Liberation Mono, monospace";
    const labelStyle = { color: "#1a1a1a", fontFamily: sans, fontSize: 15 };
    const split = { show: true, lineStyle: { color: "#e6e6e6", width: 1.5 } };
    const xBase = { type: "value", min: XMIN, max: XMAX, gridIndex: 0 };
    const yBase = { type: "value", min: YMIN, max: YMAX, gridIndex: 0 };
    const txt = (x: number, y: number, text: string, fontSize: number, fontFamily: string, fill = "#1a1a1a") => ({
      type: "text", x, y, z: 10, style: { text, fontSize, fontFamily, fill, textVerticalAlign: "middle" },
    });
    chart.setOption({
      animation: false,
      backgroundColor: "#fff4d9",
      graphic: [
        { type: "rect", z: -10, shape: { x: 9, y: 4, width: 1402, height: 740 }, style: { fill: "#111" } },
        { type: "rect", z: -9, shape: { x: 12, y: 7, width: 1399, height: 737 }, style: { fill: "#fff" } },
        txt(370, 39.5, titleLines[0], 18.2, sans),
        txt(370, 63.5, titleLines[1], 18.2, sans),
        txt(370, 87.5, titleLines[2], 18.2, sans),
        txt(427, 700, "R2X[1] = 0,37928", 16.4, mono, "#444"),
        txt(713, 700, "R2X[2] = 0,125864", 16.4, mono, "#444"),
        txt(427, 721, "Ellipse: Hotelling T2 (0,95)", 16.4, mono, "#444"),
        txt(1012, 724, "SIMCA-P+ 12 - 2008-09-07 13:19:15 (UTC+1)", 13.1, sans),
      ],
      grid,
      xAxis: [
        { ...xBase, position: "bottom", name: "t[1]", nameLocation: "middle", nameGap: 44, nameTextStyle: labelStyle,
          axisLine: { show: true, onZero: false, lineStyle: { color: lineCol, width: 1.5 } },
          axisTick: { show: true, length: 3, customValues: xTicks, lineStyle: { color: lineCol } },
          axisLabel: { customValues: xLabels, margin: 16, ...labelStyle },
          splitLine: split },
        { ...xBase, position: "top", axisLine: { show: true, onZero: false, lineStyle: { color: lineCol, width: 1.5 } },
          axisTick: { show: false }, axisLabel: { show: false }, splitLine: { show: false } },
        { ...xBase, position: "bottom", axisLine: { show: false, onZero: false },
          axisTick: { show: true, inside: true, length: 3, customValues: xTicks, lineStyle: { color: lineCol } },
          axisLabel: { show: false }, splitLine: { show: false } },
      ],
      yAxis: [
        { ...yBase, position: "left", name: "t[2]", nameLocation: "middle", nameGap: 42, nameRotate: 90, nameTextStyle: labelStyle,
          axisLine: { show: true, onZero: false, lineStyle: { color: lineCol, width: 1.5 } },
          axisTick: { show: true, length: 3, customValues: yTicks, lineStyle: { color: lineCol } },
          axisLabel: { customValues: yLabels, margin: 9, padding: [4, 0, 0, 0], ...labelStyle },
          splitLine: split },
        { ...yBase, position: "right", axisLine: { show: true, onZero: false, lineStyle: { color: "#666", width: 1.5 } },
          axisTick: { show: false }, axisLabel: { show: false }, splitLine: { show: false } },
        { ...yBase, position: "left", axisLine: { show: false, onZero: false },
          axisTick: { show: true, inside: true, length: 3, customValues: yTicks, lineStyle: { color: lineCol } },
          axisLabel: { show: false }, splitLine: { show: false } },
      ],
      series: [
        {
          type: "custom", xAxisIndex: 0, yAxisIndex: 0, clip: false, silent: true, data: [ellipse],
          renderItem: (_p: any, api: any) => {
            const c = api.coord([api.value(0), api.value(1)]);
            const e = api.coord([api.value(0) + api.value(2), api.value(1) + api.value(3)]);
            const a = api.coord([0, YMIN]), b = api.coord([0, YMAX]), l = api.coord([XMIN, 0]), r = api.coord([XMAX, 0]);
            const st = { stroke: "#111", fill: "none", lineWidth: 1 };
            return { type: "group", children: [
              { type: "line", shape: { x1: a[0], y1: a[1], x2: b[0], y2: b[1] }, style: st },
              { type: "line", shape: { x1: l[0], y1: l[1], x2: r[0], y2: r[1] }, style: st },
              { type: "ellipse", shape: { cx: c[0], cy: c[1], rx: e[0] - c[0], ry: c[1] - e[1] }, style: st },
            ] };
          },
        },
        marks(pairs(redCircles), "circle", 10.5, "#ff0000"),
        marks(pairs(blue), "rect", 9.5, "#0090ff"),
        marks(pairs(cyanStars), star, 11, "#14e6ff"),
        marks(fromRows(tealSquareRows), "rect", 9.5, "#04f09c"),
        marks(pairs(tealTriangles), "triangle", 11, "#08e898"),
        marks([...fromRows(greenSquareRows), ...pairs(greenSquareExtra)], "rect", 9.5, "#10ee55"),
        marks([...fromRows(greenCircleRows), ...pairs(greenCircleExtra)], "circle", 10.5, "#2ce812"),
        marks(pairs(limeTriangles), "triangle", 11, "#7fe01c"),
        marks([...fromRows(yellowSquareRows), ...pairs(yellowExtra)], "rect", 9.5, "#c2dc1e"),
        marks(pairs(goldCircles), "circle", 10.5, "#dcab24"),
        marks(pairs(diamonds), "diamond", 12, "#d2702f"),
        marks(pairs(redSquares), "rect", 9.5, "#c93232"),
      ],
    });
    return () => chart.dispose();
  }, []);
  return <div ref={ref} style={{ width: 1411, height: 744 }} />;
}
